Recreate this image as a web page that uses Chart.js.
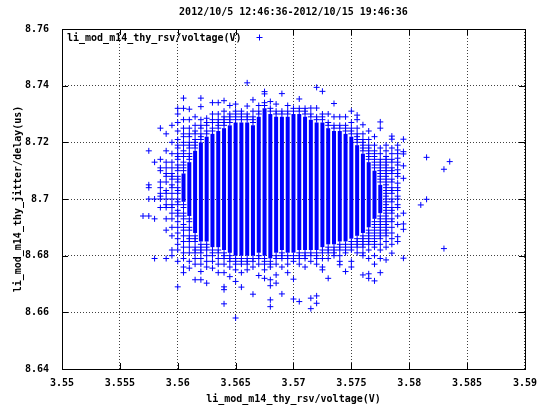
<!DOCTYPE html>
<html><head><meta charset="utf-8">
<script src="https://cdn.jsdelivr.net/npm/chart.js@4/dist/chart.umd.min.js"></script>
<style>html,body{margin:0;padding:0;background:#fff}</style>
</head><body>
<canvas id="c" width="545" height="407"></canvas>
<script>
const titleText = '2012/10/5 12:46:36-2012/10/15 19:46:36';
const seriesName = 'li_mod_m14_thy_rsv/voltage(V)';
const xAxisTitle = 'li_mod_m14_thy_rsv/voltage(V)';
const yAxisTitle = 'li_mod_m14_thy_jitter/delay(us)';

const xTicks = [3.55, 3.555, 3.56, 3.565, 3.57, 3.575, 3.58, 3.585, 3.59];
const xTickLabels = ['3.55', '3.555', '3.56', '3.565', '3.57', '3.575', '3.58', '3.585', '3.59'];
const yTicks = [8.64, 8.66, 8.68, 8.70, 8.72, 8.74, 8.76];
const yTickLabels = ['8.64', '8.66', '8.68', '8.7', '8.72', '8.74', '8.76'];

// voltage columns (x) of the scatter
const columnsX = [3.5570, 3.5575, 3.5580, 3.5585, 3.5590, 3.5595, 3.5600, 3.5605, 3.5610, 3.5615,
  3.5620, 3.5625, 3.5630, 3.5635, 3.5640, 3.5645, 3.5650, 3.5655, 3.5660, 3.5665,
  3.5670, 3.5675, 3.5680, 3.5685, 3.5690, 3.5695, 3.5700, 3.5705, 3.5710, 3.5715,
  3.5720, 3.5725, 3.5730, 3.5735, 3.5740, 3.5745, 3.5750, 3.5755, 3.5760, 3.5765,
  3.5770, 3.5775, 3.5780, 3.5785, 3.5790, 3.5795, 3.5810, 3.5815, 3.5830, 3.5835];

// dense (solid) part of each column: lowest / highest delay
const denseLow = [null, null, null, null, null, null, null, 8.699, 8.694, 8.688,
  8.685, 8.685, 8.683, 8.683, 8.682, 8.681, 8.680, 8.680, 8.680, 8.680,
  8.681, 8.680, 8.679, 8.681, 8.682, 8.681, 8.681, 8.682, 8.682, 8.682,
  8.682, 8.683, 8.684, 8.684, 8.685, 8.685, 8.686, 8.687, 8.688, 8.690,
  8.693, 8.695, null, null, null, null, null, null, null, null];
const denseHigh = [null, null, null, null, null, null, null, 8.709, 8.713, 8.717,
  8.720, 8.722, 8.723, 8.724, 8.725, 8.726, 8.727, 8.727, 8.727, 8.726,
  8.729, 8.732, 8.730, 8.729, 8.729, 8.729, 8.730, 8.730, 8.729, 8.728,
  8.727, 8.727, 8.725, 8.724, 8.724, 8.723, 8.722, 8.719, 8.716, 8.713,
  8.710, 8.705, null, null, null, null, null, null, null, null];

// separate points of each column (delay values)
const sparseY = [
  [8.694],
  [8.717, 8.705, 8.704, 8.700, 8.694],
  [8.713, 8.700, 8.693, 8.679],
  [8.725, 8.714, 8.711, 8.710, 8.706, 8.704, 8.702, 8.701, 8.700, 8.697],
  [8.723, 8.717, 8.713, 8.711, 8.709, 8.708, 8.706, 8.703, 8.702, 8.700, 8.698, 8.697, 8.693, 8.689, 8.679],
  [8.726, 8.720, 8.716, 8.713, 8.711, 8.709, 8.708, 8.707, 8.705, 8.704, 8.702, 8.700, 8.698, 8.697, 8.695, 8.693, 8.690, 8.687, 8.682, 8.680],
  [8.732, 8.730, 8.727, 8.724, 8.721, 8.719, 8.718, 8.716, 8.715, 8.714, 8.712, 8.711, 8.710, 8.708, 8.707, 8.706, 8.704, 8.703, 8.702, 8.700, 8.699, 8.698, 8.696, 8.695, 8.694, 8.692, 8.690, 8.688, 8.686, 8.684, 8.682, 8.678, 8.669],
  [8.7356, 8.732, 8.728, 8.725, 8.723, 8.722, 8.720, 8.719, 8.717, 8.716, 8.715, 8.713, 8.712, 8.711, 8.710, 8.698, 8.697, 8.695, 8.694, 8.693, 8.691, 8.690, 8.689, 8.687, 8.685, 8.683, 8.681, 8.679, 8.676, 8.674],
  [8.7317, 8.728, 8.725, 8.723, 8.722, 8.720, 8.719, 8.718, 8.716, 8.715, 8.714, 8.693, 8.692, 8.690, 8.689, 8.687, 8.686, 8.685, 8.683, 8.681, 8.678, 8.6756],
  [8.729, 8.726, 8.724, 8.723, 8.721, 8.720, 8.719, 8.718, 8.687, 8.686, 8.685, 8.683, 8.682, 8.681, 8.679, 8.677, 8.6715],
  [8.7356, 8.7326, 8.728, 8.726, 8.725, 8.723, 8.722, 8.721, 8.684, 8.683, 8.682, 8.681, 8.679, 8.677, 8.6744, 8.6715],
  [8.7285, 8.727, 8.726, 8.724, 8.723, 8.684, 8.683, 8.682, 8.680, 8.678, 8.676, 8.6703],
  [8.734, 8.730, 8.728, 8.727, 8.725, 8.724, 8.682, 8.681, 8.680, 8.678, 8.6756],
  [8.734, 8.730, 8.728, 8.727, 8.726, 8.725, 8.682, 8.681, 8.679, 8.677, 8.674],
  [8.7347, 8.731, 8.729, 8.728, 8.727, 8.726, 8.681, 8.680, 8.679, 8.677, 8.674, 8.669, 8.668, 8.663],
  [8.733, 8.730, 8.729, 8.728, 8.727, 8.680, 8.679, 8.678, 8.676, 8.6726],
  [8.7335, 8.731, 8.730, 8.729, 8.728, 8.679, 8.678, 8.677, 8.675, 8.6709, 8.658],
  [8.731, 8.730, 8.729, 8.728, 8.679, 8.678, 8.677, 8.674, 8.6689],
  [8.741, 8.7328, 8.730, 8.729, 8.728, 8.679, 8.678, 8.677, 8.675],
  [8.735, 8.731, 8.729, 8.728, 8.727, 8.679, 8.678, 8.676, 8.6664],
  [8.733, 8.731, 8.730, 8.680, 8.679, 8.677, 8.673],
  [8.7379, 8.7371, 8.734, 8.733, 8.679, 8.678, 8.677, 8.675, 8.672],
  [8.7344, 8.732, 8.731, 8.678, 8.677, 8.676, 8.6715, 8.6694, 8.6644, 8.662],
  [8.7335, 8.731, 8.730, 8.680, 8.679, 8.677, 8.6732, 8.6703],
  [8.7372, 8.731, 8.730, 8.681, 8.680, 8.679, 8.676, 8.6665],
  [8.733, 8.731, 8.730, 8.680, 8.679, 8.677, 8.674],
  [8.732, 8.731, 8.680, 8.679, 8.678, 8.6717, 8.6647],
  [8.7353, 8.732, 8.731, 8.681, 8.680, 8.679, 8.677, 8.6638],
  [8.732, 8.731, 8.730, 8.681, 8.680, 8.679, 8.676],
  [8.7321, 8.730, 8.729, 8.681, 8.680, 8.678, 8.665, 8.6613],
  [8.7394, 8.7321, 8.729, 8.728, 8.681, 8.680, 8.679, 8.677, 8.6658, 8.6632],
  [8.738, 8.730, 8.729, 8.728, 8.682, 8.681, 8.679, 8.676, 8.675],
  [8.730, 8.727, 8.726, 8.683, 8.682, 8.681, 8.679, 8.672],
  [8.7337, 8.729, 8.726, 8.725, 8.683, 8.682, 8.681, 8.680],
  [8.729, 8.726, 8.725, 8.684, 8.683, 8.682, 8.680, 8.678, 8.6768],
  [8.729, 8.726, 8.725, 8.724, 8.684, 8.683, 8.682, 8.681, 8.6744],
  [8.731, 8.727, 8.725, 8.724, 8.723, 8.685, 8.684, 8.683, 8.682, 8.678, 8.676],
  [8.7296, 8.728, 8.725, 8.723, 8.722, 8.721, 8.720, 8.686, 8.685, 8.684, 8.683, 8.681],
  [8.7262, 8.723, 8.721, 8.720, 8.719, 8.718, 8.717, 8.687, 8.686, 8.685, 8.684, 8.683, 8.681, 8.680, 8.6732],
  [8.724, 8.721, 8.719, 8.718, 8.717, 8.716, 8.715, 8.714, 8.689, 8.688, 8.687, 8.686, 8.685, 8.684, 8.682, 8.679, 8.6736, 8.672],
  [8.722, 8.719, 8.717, 8.716, 8.715, 8.714, 8.713, 8.712, 8.711, 8.692, 8.691, 8.690, 8.689, 8.688, 8.687, 8.686, 8.685, 8.684, 8.683, 8.680, 8.677, 8.6711],
  [8.7272, 8.725, 8.718, 8.716, 8.714, 8.713, 8.712, 8.711, 8.710, 8.709, 8.708, 8.707, 8.706, 8.694, 8.693, 8.692, 8.691, 8.690, 8.689, 8.688, 8.687, 8.686, 8.684, 8.682, 8.679, 8.674],
  [8.719, 8.717, 8.715, 8.714, 8.713, 8.712, 8.711, 8.710, 8.709, 8.708, 8.707, 8.706, 8.705, 8.704, 8.703, 8.702, 8.701, 8.700, 8.699, 8.698, 8.697, 8.696, 8.695, 8.694, 8.693, 8.692, 8.691, 8.690, 8.689, 8.688, 8.687, 8.685, 8.683, 8.6785],
  [8.7222, 8.7211, 8.718, 8.716, 8.714, 8.713, 8.711, 8.710, 8.709, 8.707, 8.706, 8.704, 8.703, 8.702, 8.700, 8.699, 8.697, 8.696, 8.695, 8.693, 8.692, 8.690, 8.688, 8.686, 8.684, 8.6809],
  [8.719, 8.7173, 8.716, 8.7144, 8.713, 8.712, 8.7103, 8.709, 8.708, 8.7056, 8.704, 8.703, 8.701, 8.700, 8.698, 8.697, 8.694, 8.691, 8.6867, 8.685],
  [8.7211, 8.7167, 8.7159, 8.7117, 8.7073, 8.695, 8.6912, 8.6893, 8.6791],
  [8.6979],
  [8.7147, 8.6999],
  [8.7105, 8.6825],
  [8.7132]
];

const BLUE = '#0000ff';
const FONT = {family: "'DejaVu Sans Mono', 'Liberation Mono', monospace", size: 10, weight: 'bold'};

const barData = [];
columnsX.forEach((x, i) => {
  if (denseLow[i] !== null) barData.push({x: x, y: [denseLow[i], denseHigh[i]]});
});
const pointData = [];
columnsX.forEach((x, i) => {
  sparseY[i].forEach(y => pointData.push({x: x, y: y}));
});

const gpDecor = {
  id: 'gpDecor',
  afterDraw(chart) {
    const {ctx, chartArea: a, scales} = chart;
    ctx.save();
    ctx.strokeStyle = '#000';
    ctx.lineWidth = 1;
    // inward tick marks (mirrored)
    ctx.beginPath();
    xTicks.forEach(v => {
      const px = Math.round(scales.x.getPixelForValue(v)) + 0.5;
      ctx.moveTo(px, a.bottom); ctx.lineTo(px, a.bottom - 6);
      ctx.moveTo(px, a.top); ctx.lineTo(px, a.top + 6);
    });
    yTicks.forEach(v => {
      const py = Math.round(scales.y.getPixelForValue(v)) + 0.5;
      ctx.moveTo(a.left, py); ctx.lineTo(a.left + 6, py);
      ctx.moveTo(a.right, py); ctx.lineTo(a.right - 6, py);
    });
    ctx.stroke();
    // frame
    ctx.strokeRect(Math.round(a.left) + 0.5, Math.round(a.top) + 0.5,
      Math.round(a.right - a.left), Math.round(a.bottom - a.top));
    // key (legend) inside the plot, text then sample
    ctx.font = 'bold 10px ' + FONT.family;
    ctx.fillStyle = '#000';
    ctx.textAlign = 'left';
    ctx.textBaseline = 'middle';
    const ky = a.top + 9;
    ctx.fillText(seriesName, a.left + 5, ky);
    const tw = ctx.measureText(seriesName).width;
    const sx = Math.round(a.left + 5 + tw + 17) + 0.5;
    const sy = Math.round(ky - 1) + 0.5;
    ctx.strokeStyle = BLUE;
    ctx.beginPath();
    ctx.moveTo(sx - 3, sy); ctx.lineTo(sx + 3, sy);
    ctx.moveTo(sx, sy - 3); ctx.lineTo(sx, sy + 3);
    ctx.stroke();
    ctx.restore();
  }
};

new Chart(document.getElementById('c'), {
  type: 'scatter',
  data: {
    datasets: [
      {
        type: 'bar', label: seriesName, data: barData,
        backgroundColor: BLUE, borderWidth: 0, barThickness: 4, inflateAmount: 0,
        grouped: false, order: 2
      },
      {
        type: 'scatter', label: seriesName, data: pointData,
        pointStyle: 'cross', pointRadius: 3, pointBorderWidth: 1,
        borderColor: BLUE, backgroundColor: BLUE, order: 1
      }
    ]
  },
  options: {
    responsive: false,
    animation: false,
    events: [],
    devicePixelRatio: 1,
    layout: {padding: {left: 0, right: 13, top: 0, bottom: 0}},
    plugins: {
      legend: {display: false},
      tooltip: {enabled: false},
      title: {
        display: true, text: titleText, font: FONT, color: '#000',
        padding: {top: 6, bottom: 11}, fullSize: false
      }
    },
    scales: {
      x: {
        type: 'linear', min: 3.55, max: 3.59, offset: false, z: 1,
        afterBuildTicks: s => { s.ticks = xTicks.map(v => ({value: v})); },
        afterFit: s => { s.height = 38; },
        ticks: {
          callback: (v, i) => xTickLabels[i], font: FONT, color: '#000',
          padding: 8, maxRotation: 0, autoSkip: false
        },
        grid: {color: 'rgba(0,0,0,0.75)', lineWidth: 1, drawTicks: false, offset: false},
        border: {display: false, dash: [1, 2]},
        title: {display: true, text: xAxisTitle, font: FONT, color: '#000', padding: {top: 0, bottom: 2}}
      },
      y: {
        type: 'linear', min: 8.64, max: 8.76, z: 1, beginAtZero: false,
        afterBuildTicks: s => { s.ticks = yTicks.map(v => ({value: v})); },
        afterFit: s => { s.width = 62; },
        ticks: {
          callback: (v, i) => yTickLabels[i], font: FONT, color: '#000',
          padding: 13, autoSkip: false
        },
        grid: {color: 'rgba(0,0,0,0.75)', lineWidth: 1, drawTicks: false, offset: false},
        border: {display: false, dash: [1, 2]},
        title: {display: true, text: yAxisTitle, font: FONT, color: '#000', padding: {top: 12, bottom: 0}}
      }
    }
  },
  plugins: [gpDecor]
});
</script>
</body></html>
